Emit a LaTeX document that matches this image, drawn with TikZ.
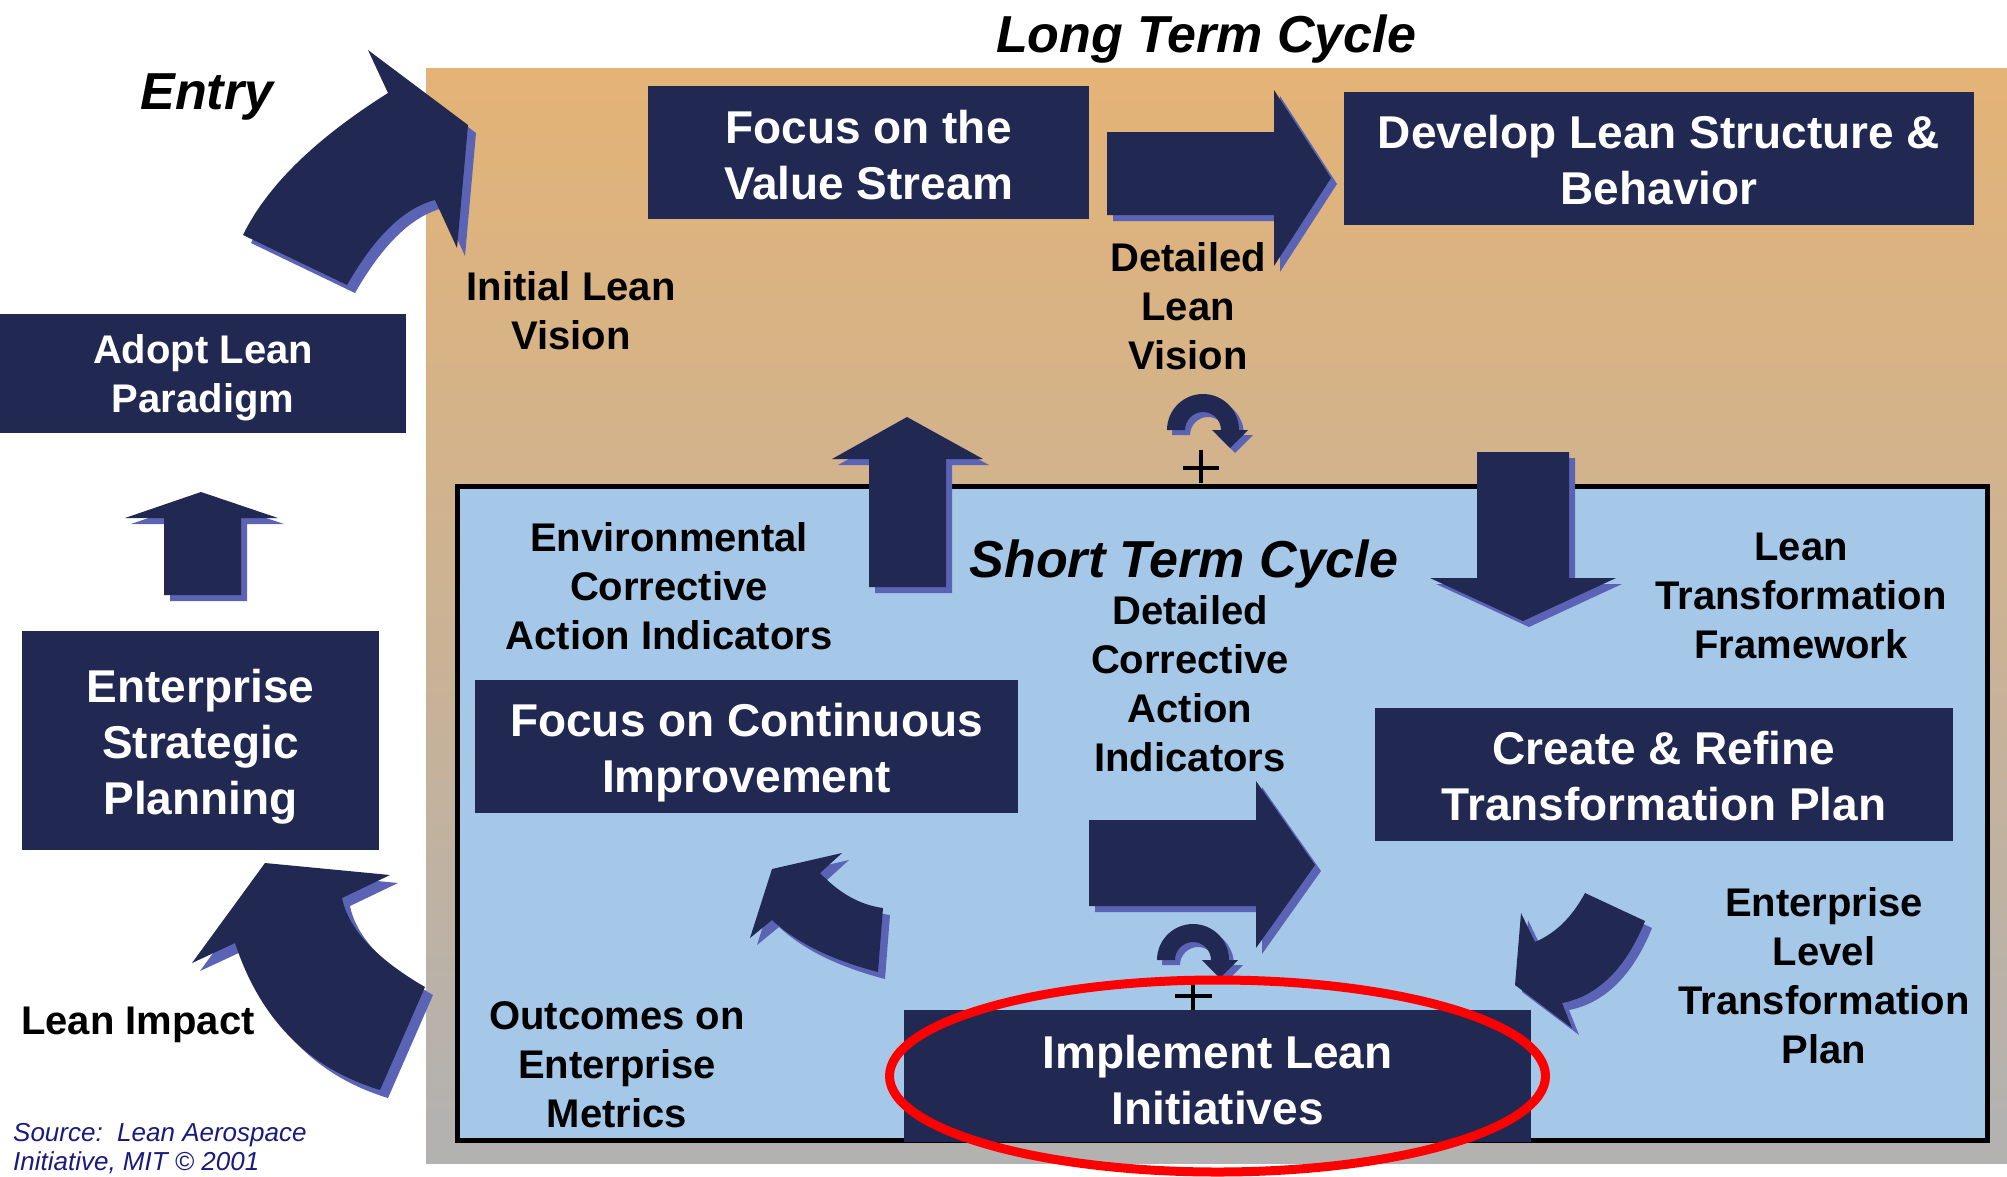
\documentclass[tikz,border=0pt]{standalone}
\usepackage{fontspec}
\setmainfont{Liberation Sans}
\definecolor{navy}{RGB}{33,40,82}
\definecolor{shadowc}{RGB}{91,99,181}
\definecolor{bgorange}{RGB}{228,179,118}
\definecolor{bggray}{RGB}{178,178,178}
\definecolor{lightblue}{RGB}{166,200,232}
\definecolor{srcblue}{RGB}{26,26,128}
\definecolor{redc}{RGB}{255,0,0}
\newcommand\sharrow[2][6]{\fill[shadowc,shift={(#1,#1)}] #2; \fill[navy] #2;}
\def\curlpath{(-36,0) .. controls (-36,-19.9) and (-19.9,-36) .. (0,-36) .. controls (19.9,-36) and (36,-19.9) .. (36,0) -- (45,0) -- (27,18) -- (9,0) -- (18,0) .. controls (18,-9.9) and (9.9,-18) .. (0,-18) .. controls (-9.9,-18) and (-18,-9.9) .. (-18,0) -- cycle}
\newcommand\curlarrow[2]{\begin{scope}[shift={(#1,#2)}]\fill[shadowc,shift={(5,5)}] \curlpath; \fill[navy] \curlpath;\end{scope}}
\begin{document}
\begin{tikzpicture}[x=1pt,y=-1pt,
  navybox/.style={fill=navy, inner sep=0},
  boxtext/.style={text=white, font=\fontsize{46}{56}\selectfont\bfseries, align=center, inner sep=0},
  lbl/.style={text=black, font=\fontsize{40}{49}\selectfont\bfseries, align=center, inner sep=0},
  ttl/.style={text=black, font=\fontsize{52}{60}\selectfont\bfseries\itshape, inner sep=0},
  plus/.style={line width=4.5, black}]
\useasboundingbox (0,0) rectangle (2007,1176);
\fill[white] (0,0) rectangle (2007,1176);
% background of long term cycle
\shade[top color=bgorange, bottom color=bggray] (426,68) rectangle (2007,1163);
% short term cycle box
\draw[line width=5, fill=lightblue] (457,486) rectangle (1987,1140);

% straight arrows
\sharrow{(1107,132) -- (1274,132) -- (1274,90) -- (1331,178) -- (1274,266) -- (1274,215) -- (1107,215) -- cycle}
\sharrow{(869,587) -- (869,459) -- (832,459) -- (907,417) -- (983,459) -- (946,459) -- (946,587) -- cycle}
\sharrow{(1477,452) -- (1569,452) -- (1569,578) -- (1616,578) -- (1523,621) -- (1430,578) -- (1477,578) -- cycle}
\sharrow{(164,595) -- (164,518) -- (125,518) -- (201,492) -- (278,518) -- (241,518) -- (241,595) -- cycle}
\sharrow{(1089,820) -- (1256,820) -- (1256,781) -- (1315,865) -- (1256,948) -- (1256,906) -- (1089,906) -- cycle}
% curved arrows
\sharrow[8]{(243,235) .. controls (267,186) and (315,139) .. (388,93) -- (368,50) -- (468,125) -- (457,248) -- (435,200) .. controls (404,208) and (375,236) .. (347,285) -- cycle}
\sharrow[8]{(265,863) -- (390,875) -- (342,898) .. controls (348,928) and (375,958) .. (425,987) -- (380,1090) .. controls (308,1068) and (260,1019) .. (235,943) -- (192,963) -- cycle}
\sharrow[7]{(772,869) -- (842,853) -- (820,873) .. controls (839,893) and (860,905) .. (883,908) -- (878,972) .. controls (832,960) and (797,943) .. (772,920) -- (750,938) -- cycle}
\sharrow[7]{(1585,893) -- (1645,921) .. controls (1626,968) and (1598,996) .. (1562,1003) -- (1572,1028) -- (1515,985) -- (1521,913) -- (1535,942) .. controls (1556,933) and (1572,917) .. (1585,893) -- cycle}
% small curl arrows
\curlarrow{1203}{430}
\curlarrow{1193}{960}

% navy boxes
\node[navybox, minimum width=441, minimum height=133] (focus) at (868.5,152.5) {};
\node[navybox, minimum width=630, minimum height=133] (develop) at (1659,158.5) {};
\node[navybox, minimum width=406, minimum height=119] (adopt) at (203,373.5) {};
\node[navybox, minimum width=357, minimum height=219] (esp) at (200.5,740.5) {};
\node[navybox, minimum width=543, minimum height=133] (fci) at (746.5,746.5) {};
\node[navybox, minimum width=578, minimum height=133] (crtp) at (1664,774.5) {};
\node[navybox, minimum width=627, minimum height=132] (ili) at (1217.5,1076) {};
\node[boxtext] (focus-t) at ([yshift=-3pt]focus.center) {Focus on the\\Value Stream};
\node[boxtext] (develop-t) at ([yshift=-2pt]develop.center) {Develop Lean Structure \&\\Behavior};
\node[boxtext, font=\fontsize{40}{49}\selectfont\bfseries] (adopt-t) at ([yshift=-4pt]adopt.center) {Adopt Lean\\Paradigm};
\node[boxtext] (esp-t) at ([yshift=-6pt]esp.center) {Enterprise\\Strategic\\Planning};
\node[boxtext] (fci-t) at ([yshift=-6pt]fci.center) {Focus on Continuous\\Improvement};
\node[boxtext] (crtp-t) at ([yshift=-2pt]crtp.center) {Create \& Refine\\Transformation Plan};
\node[boxtext] (ili-t) at ([yshift=-4pt]ili.center) {Implement Lean\\Initiatives};

% plus signs
\draw[plus] (1201,450) -- (1201,483) (1183,468) -- (1219,468);
\draw[plus] (1193,977) -- (1193,1010) (1175,996) -- (1212,996);

% titles and labels
\node[ttl] (ltc) at (1206,39) {Long Term Cycle};
\node[ttl] (entry) at (207,97) {Entry};
\node[ttl] (stc) at (1184,564) {Short Term Cycle};
\node[lbl] (ilv) at (571,311) {Initial Lean\\Vision};
\node[lbl] (dlv) at (1188,306) {Detailed\\Lean\\Vision};
\node[lbl] (ecai) at (669,586) {Environmental\\Corrective\\Action Indicators};
\node[lbl] (dcai) at (1190,683.5) {Detailed\\Corrective\\Action\\Indicators};
\node[lbl] (ltf) at (1801,596) {Lean\\Transformation\\Framework};
\node[lbl] (eltp) at (1824,975.5) {Enterprise\\Level\\Transformation\\Plan};
\node[lbl] (oem) at (617,1064.5) {Outcomes on\\Enterprise\\Metrics};
\node[lbl] (limpact) at (138,1025) {Lean Impact};
\node[anchor=west, inner sep=0, align=left, text=srcblue, font=\fontsize{26}{29.5}\selectfont\itshape] (src) at (13,1148.5) {Source:\ \ Lean Aerospace\\Initiative, MIT \textcopyright\ 2001};

% highlight ellipse
\draw[redc, line width=9] (ili.center) ellipse [x radius=328, y radius=96];
\end{tikzpicture}
\end{document}
